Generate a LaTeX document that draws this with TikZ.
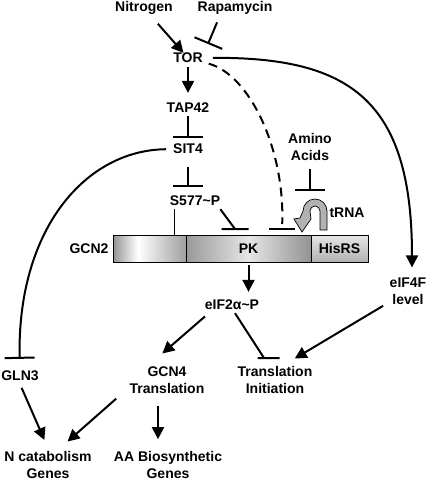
\documentclass[tikz,border=0pt]{standalone}
\usepackage{fontspec}
\setmainfont{Liberation Sans}
\usetikzlibrary{arrows.meta}

\pgfdeclarehorizontalshading{gcnleft}{100bp}{color(0bp)=(gray!85); color(25bp)=(gray!85); color(42bp)=(white); color(75bp)=(gray!75); color(100bp)=(gray!75)}
\pgfdeclarehorizontalshading{gcnpk}{100bp}{color(0bp)=(gray!80); color(25bp)=(gray!80); color(50bp)=(gray!20); color(75bp)=(gray!85); color(100bp)=(gray!85)}

\begin{document}
\begin{tikzpicture}[x=1pt,y=-1pt,
    font=\fontsize{14}{17}\selectfont\bfseries,
    lbl/.style={inner sep=3pt,align=center},
    act/.style={line width=2pt,-{Triangle[length=12pt,width=12pt]}},
    inh/.style={line width=2pt,-{Bar[width=30pt]}},
    bar/.style={line width=2pt},
    seg/.style={draw,line width=0.8pt,minimum height=27pt,inner sep=0pt}]
    \useasboundingbox (0,0) rectangle (428,480);

    \node[lbl] (nitrogen) at (144,8) {Nitrogen};
    \node[lbl] (rapamycin) at (235,8) {Rapamycin};
    \node[lbl] (tor) at (188,58) {TOR};
    \node[lbl] (tap) at (188,108) {TAP42};
    \node[lbl] (sit) at (188,149) {SIT4};
    \node[lbl] (spho) at (195,201) {S577\textasciitilde P};
    \node[lbl] (amino) at (310,147) {Amino\\Acids};
    \node[lbl] (trna) at (347,213) {tRNA};
    \node[seg,minimum width=73pt,shading=gcnleft] (gcnl) at (149.5,248.5) {};
    \node[seg,minimum width=125pt,shading=gcnpk] (pk) at (248.5,248.5) {PK};
    \node[seg,minimum width=57pt,top color=gray!20,bottom color=gray!60] (hisrs) at (339.5,248.5) {HisRS};
    \node[lbl] (gcn2) at (89,249) {GCN2};
    \node[lbl] (eif2) at (232,305) {eIF2α\textasciitilde P};
    \node[lbl] (eif4f) at (408,291) {eIF4F\\level};
    \node[lbl] (gln3) at (20,376) {GLN3};
    \node[lbl] (gcn4) at (167,380) {GCN4\\Translation};
    \node[lbl] (transinit) at (275,380) {Translation\\Initiation};
    \node[lbl] (ncat) at (48,465) {N catabolism\\Genes};
    \node[lbl] (aabio) at (168,465) {AA Biosynthetic\\Genes};

    \coordinate (rapbar) at (208,44);
    \coordinate (pkbar1) at (235,229);
    \coordinate (pkbar2) at (282,229);
    \coordinate (trnabar) at (310,191);
    \coordinate (tibar) at (264,358);

    \draw[act,shorten <=8pt,shorten >=-4pt] (nitrogen) -- (tor);
    \draw[inh,shorten <=5pt] ([xshift=-16pt]rapamycin.south) -- (rapbar);
    \draw[act,shorten <=1pt,shorten >=7pt] (tor) -- (tap);
    \draw[inh,shorten >=3pt] (tap) -- (sit);
    \draw[inh,shorten <=10pt,shorten >=6pt] (sit) -- (sit |- spho.north);
    \draw[line width=1pt] ([xshift=-21pt]spho.south) -- ([xshift=-21pt]spho.south |- gcnl.north);
    \draw[bar] ([xshift=-3pt]spho.south east) -- (pkbar1) ++(-13.5,0) -- ++(27,0);
    \draw[bar,dash pattern=on 9pt off 6pt,shorten <=3pt,shorten >=5pt] (tor) .. controls (250,75) and (285,150) .. (pkbar2);
    \draw[bar] (pkbar2) ++(-13,0) -- ++(26,0);
    \draw[inh,shorten <=5pt] (amino) -- (trnabar);
    \draw[line width=0.7pt,fill=gray!60] (327,230) -- (327,211) arc[start angle=0,end angle=-180,radius=12]
        -- (300,218) -- (294,219) -- (302,232) -- (311,219) -- (310,211)
        arc[start angle=-180,end angle=0,radius=5] -- (320,230) -- cycle;
    \draw[act,shorten <=3pt,shorten >=5pt] (pk.south) -- (pk.south |- eif2.north);
    \draw[act,shorten <=7pt,shorten >=7pt] (tor) .. controls (350,57) and (412,100) .. ([xshift=4pt]eif4f.north);
    \draw[inh,shorten <=4pt,shorten >=9pt] (sit) .. controls (85,150) and (17,230) .. (gln3);
    \draw[act,shorten <=5pt,shorten >=15pt] ([xshift=7pt]eif2.south west) -- ([xshift=-16pt]gcn4.north);
    \draw[bar,shorten <=9pt] ([xshift=3pt]eif2.south) -- (tibar) ++(-15.5,0) -- ++(31,0);
    \draw[act,shorten <=4pt,shorten >=9pt] (eif4f) -- ([xshift=12pt]transinit.north);
    \draw[act,shorten <=4pt,shorten >=9pt] (gln3.south) -- (ncat.north);
    \draw[act,shorten <=3pt,shorten >=10pt] ([xshift=-8pt]gcn4.south west) -- ([xshift=12pt]ncat.north);
    \draw[act,shorten <=9pt,shorten >=9pt] ([xshift=-9pt]gcn4.south) -- ([xshift=-9pt]gcn4.south |- aabio.north);
\end{tikzpicture}
\end{document}
